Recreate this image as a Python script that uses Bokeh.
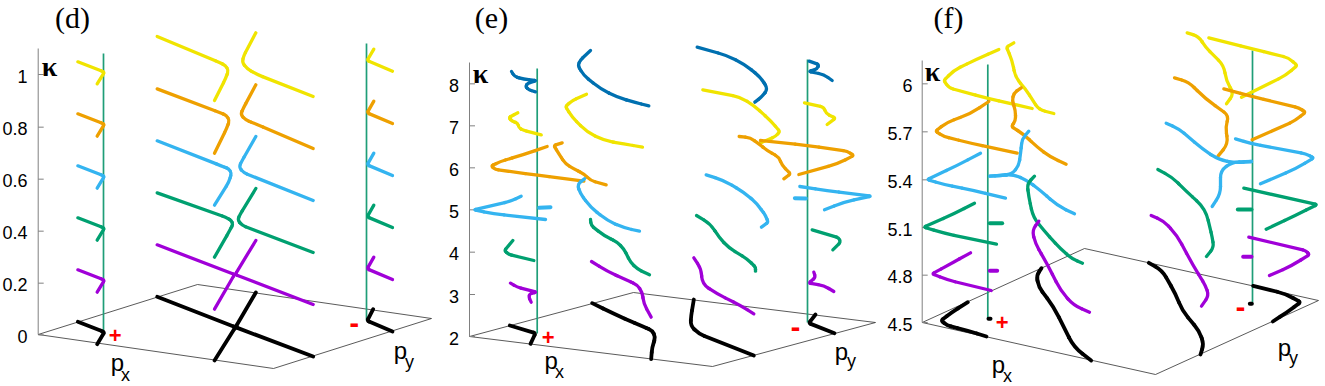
import math
from bokeh.plotting import figure
from bokeh.core.properties import value
from bokeh.embed import file_html
from bokeh.resources import INLINE

COLORS = dict(y="#f0e400", o="#eea000", s="#34b4f0", g="#00a070", p="#a000d8", b="#0070b0", k="#000000")

# curves of each crop (crop units: 3 per pixel)
curves_a = [
 ("y",[(232,184),(305,212),(311,216),(290,250)]),("o",[(232,340),(305,368),(311,372),(290,407)]),
 ("s",[(232,496),(305,524),(311,528),(290,563)]),("g",[(232,652),(305,680),(311,684),(290,719)]),
 ("p",[(232,808),(305,836),(311,840),(290,875)]),("k",[(232,964),(305,992),(311,996),(290,1031)]),
]
curves_b = [
 ("y",[(20,108),(205,185),(225,195),(234,210),(225,235),(192,300)]),("y",[(316,97),(280,165),(275,185),(290,205),(320,222),(488,288)]),
 ("o",[(20,265),(205,335),(228,345),(237,360),(228,385),(192,458)]),("o",[(316,253),(280,320),(270,342),(285,358),(320,372),(488,444)]),
 ("s",[(20,421),(210,495),(235,505),(243,518),(235,545),(192,614)]),("s",[(316,408),(275,480),(265,500),(280,517),(488,600)]),
 ("g",[(20,577),(225,650),(243,660),(247,672),(235,695),(192,770)]),("g",[(316,564),(270,640),(261,658),(275,675),(488,756)]),
 ("p",[(20,733),(252,822),(192,926)]),("p",[(316,720),(254,822),(488,912)]),
 ("k",[(20,889),(255,980),(192,1080)]),("k",[(316,876),(255,980),(488,1068)]),
 ("y",[(670,146),(650,180),(726,212)]),("o",[(670,302),(650,337),(726,369)]),("s",[(670,458),(650,493),(726,525)]),
 ("g",[(670,614),(650,649),(726,681)]),("p",[(670,770),(650,805),(726,837)]),("k",[(668,926),(650,961),(726,993)]),
]
curves_c = [
 ("b",[(213,213),(222,228),(250,236),(288,240),(262,248),(255,258),(265,268),(285,274)]),
 ("y",[(232,337),(215,345),(205,352),(215,362),(232,368),(235,382),(250,390),(302,403)]),
 ("o",[(320,438),(250,462),(180,483),(152,496),(165,507),(290,524),(430,542)]),
 ("s",[(242,587),(210,602),(100,628),(160,640),(315,657)]),("s",[(296,622),(330,620)]),
 ("g",[(217,720),(192,750),(205,762),(280,780)]),
 ("p",[(210,848),(230,860),(288,875),(268,880),(265,890),(272,905)]),
 ("k",[(208,975),(285,998),(270,1030)]),
 ("b",[(450,150),(420,178),(412,195),(430,225),(480,265),(530,290),(580,305),(625,316)]),
 ("y",[(438,281),(395,300),(375,318),(395,350),(440,395),(490,420),(550,430),(606,440)]),
 ("o",[(365,427),(340,435),(355,460),(375,490),(400,505),(430,520),(450,540),(497,553)]),
 ("s",[(432,535),(410,552),(420,580),(450,620),(500,660),(550,682),(597,692)]),
 ("g",[(450,657),(452,675),(490,705),(530,725),(550,745),(570,785),(590,805),(627,823)]),
 ("p",[(453,783),(500,812),(550,835),(590,853),(605,875),(610,910),(632,950)]),
 ("k",[(455,908),(520,940),(600,975),(635,990),(645,1010),(635,1040),(632,1076)]),
]
curves_d = [
 ("b",[(110,140),(200,165),(250,190),(300,230),(322,265),(305,288),(283,305)]),
 ("y",[(127,268),(240,290),(280,315),(330,360),(358,393),(345,408),(298,428)]),
 ("o",[(236,408),(270,412),(295,430),(320,450),(355,470),(365,495),(390,520),(370,535)]),
 ("o",[(300,420),(440,435),(560,452),(580,465),(530,490),(415,522)]),
 ("s",[(137,523),(190,540),(250,575),(290,610),(315,645),(323,665),(303,680)]),
 ("g",[(108,645),(150,670),(175,710),(205,742),(260,775),(285,800),(285,812)]),
 ("p",[(100,772),(122,805),(125,850),(170,880),(240,915),(280,940)]),
 ("k",[(100,897),(92,945),(90,975),(115,1000),(280,1065)]),
 ("b",[(446,182),(475,192),(470,205),(445,213),(490,222),(515,240)]),
 ("y",[(432,307),(490,320),(497,340),(525,353),(500,372)]),
 ("s",[(418,558),(500,570),(632,587),(550,605),(492,628)]),("s",[(403,593),(436,594)]),
 ("g",[(455,688),(535,712),(540,725),(517,748)]),
 ("p",[(460,815),(465,830),(445,848),(490,855),(520,873)]),
 ("k",[(465,942),(445,968),(522,998)]),
]
curves_e = [
 ("y",[(355,147),(290,175),(220,210),(190,240),(205,262),(320,293),(455,324)]),
 ("y",[(400,127),(378,140),(395,180),(405,232),(435,265),(470,320),(485,330),(520,339)]),
 ("o",[(325,303),(270,340),(200,365),(165,392),(190,408),(270,428),(410,458)]),
 ("o",[(422,262),(400,278),(395,300),(405,330),(405,360),(393,378),(430,402),(470,440),(510,470),(557,491)]),
 ("s",[(300,458),(230,495),(140,537),(190,552),(280,570),(375,593)]),
 ("s",[(445,392),(425,415),(420,460),(415,495),(395,520),(360,525),(328,527)]),
 ("s",[(328,527),(400,522),(440,540),(480,570),(530,615),(582,640)]),
 ("g",[(282,608),(220,640),(130,680),(190,698),(348,731)]),("g",[(328,668),(365,668)]),
 ("g",[(462,527),(440,550),(445,590),(458,650),(490,690),(540,745),(575,775),(606,788)]),
 ("p",[(270,757),(210,790),(155,820),(200,838),(332,870)]),("p",[(328,811),(350,811)]),
 ("p",[(475,662),(455,690),(465,730),(500,790),(540,870),(580,915),(627,935)]),
 ("k",[(262,905),(215,935),(182,960),(200,975),(260,990),(318,1008)]),
 ("k",[(483,803),(468,825),(475,860),(520,920),(550,980),(580,1040),(632,1080)]),
 ("k",[(324,955),(330,955)]),
]
curves_f = [
 ("y",[(310,112),(440,145),(550,172),(575,195),(540,225),(408,290)]),
 ("y",[(245,97),(280,108),(300,140),(355,195),(362,240),(385,280),(363,310)]),
 ("o",[(355,265),(440,288),(580,322),(600,335),(570,360),(440,418)]),
 ("o",[(207,232),(250,245),(300,295),(370,345),(360,380),(368,430),(338,466)]),
 ("s",[(390,415),(440,430),(600,460),(625,472),(570,505),(465,550)]),
 ("s",[(182,368),(220,385),(290,445),(340,478),(390,487),(438,483)]),
 ("s",[(438,483),(380,485),(345,510),(345,580),(320,618)]),
 ("g",[(415,563),(635,612),(570,645),(482,686)]),("g",[(397,627),(438,627)]),
 ("g",[(157,507),(200,530),(240,570),(300,625),(320,710),(325,740),(303,768)]),
 ("p",[(430,710),(600,750),(612,762),(560,795),(492,825)]),("p",[(413,769),(438,769)]),
 ("p",[(137,645),(175,662),(215,705),(260,790),(300,855),(310,885),(288,917)]),
 ("k",[(443,856),(540,880),(585,905),(545,935),(502,963)]),
 ("k",[(130,787),(170,810),(210,880),(230,930),(280,990),(295,1030),(285,1062)]),
 ("k",[(433,910),(439,910)]),
]
crops = [(0,curves_a),(150,curves_b),(440,curves_c),(660,curves_d),(880,curves_e),(1105,curves_f)]

ticks_d = ["1","0.8","0.6","0.4","0.2","0"]
ticks_d_y = [222,380,536,692,848,1003]
ticks_e = ["8","7","6","5","4","3","2"]
ticks_e_y = [250,376,502,628,755,882,1008]
ticks_f = ["6","5.7","5.4","5.1","4.8","4.5"]
ticks_f_y = [250,394,538,681,824,966]

planes = [
 [(37.7,334),(197,284),(431,318),(273,368),(37.7,334)],
 [(469,336),(633,292),(875,322),(712,366),(469,336)],
 [(921.7,322),(1084,248),(1318,300),(1155,374),(921.7,322)],
]
axes_pp = [(37.7,48,334),(469,62,336),(921.7,60,322)]
stems = [(103,53,330),(366,43,320),(536.7,68,333),(807,59,322),(987.3,64,318),(1252,50,302)]

p = figure(width=1325, height=386, x_range=(0,1325), y_range=(386,0), output_backend="svg",
           toolbar_location=None, min_border=0)
p.axis.visible = False
p.grid.visible = False
p.outline_line_color = None
p.background_fill_color = "white"

for pl in planes:
    p.line([a for a,_ in pl],[b for _,b in pl],line_color="#303030",line_width=0.8)
for x,y0,y1 in axes_pp:
    p.line([x,x],[y0,y1],line_color="#808080",line_width=1)
for x,y0,y1 in stems:
    p.line([x,x],[y0,y1],line_color="#1f9e78",line_width=1.7)

def tick_block(labels, ys, axis_x, right):
    for lab,y in zip(labels,ys):
        yy=y/3
        p.line([axis_x,axis_x+5.5],[yy,yy],line_color="#808080",line_width=1)
        p.text([right],[yy+1.5],text=[lab],text_font=value("Liberation Sans"),text_font_size="18px",
               text_align="right",text_baseline="middle",text_color="black")
tick_block(ticks_d,ticks_d_y,37.7,27)
tick_block(ticks_e,ticks_e_y,469,458.5)
tick_block(ticks_f,ticks_f_y,921.7,912)

def draw_curve(off, c, pts):
    P=[(off+a/3,b/3) for a,b in pts]
    lw=3.8 if c=="k" else 3.3
    kw=dict(line_color=COLORS[c],line_width=lw,line_cap="round")
    n=len(P)
    if n==2:
        kw["line_width"]=4
        p.line([P[0][0],P[1][0]],[P[0][1],P[1][1]],**kw); return
    cut=[]
    for i in range(1,n-1):
        ax,ay=P[i-1];bx,by=P[i];cx,cy=P[i+1]
        u=(ax-bx,ay-by);v=(cx-bx,cy-by)
        lu=math.hypot(*u);lv=math.hypot(*v)
        cos=(u[0]*v[0]+u[1]*v[1])/(lu*lv)
        d=min(min(lu,lv)/2,12)
        if cos>-0.3:
            d=min(d,2)     # keep the sharp corners of the curves tight
        cut.append(((bx+u[0]/lu*d,by+u[1]/lu*d),(bx,by),(bx+v[0]/lv*d,by+v[1]/lv*d)))
    xs=[];ys=[]
    cur=P[0]
    for s,ctrl,e in cut:
        if math.hypot(s[0]-cur[0],s[1]-cur[1])>0.01:
            xs.append([cur[0],s[0]]);ys.append([cur[1],s[1]])
        p.quadratic(x0=[s[0]],y0=[s[1]],x1=[e[0]],y1=[e[1]],cx=[ctrl[0]],cy=[ctrl[1]],**kw)
        cur=e
    if math.hypot(P[-1][0]-cur[0],P[-1][1]-cur[1])>0.01:
        xs.append([cur[0],P[-1][0]]);ys.append([cur[1],P[-1][1]])
    if xs:
        p.multi_line(xs,ys,**kw)

for off,cs in crops:
    for c,pts in cs:
        draw_curve(off,c,pts)

def txt(x,y,t,font,size,color="black",style="normal"):
    # y is the wanted baseline; the text glyph sits about a third of its size lower
    p.text([x],[y-size/3],text=[t],text_font=value(font),text_font_size=f"{size}px",text_align="center",
           text_baseline="alphabetic",text_color=color,text_font_style=style)

for x,t in [(72,"(d)"),(491,"(e)"),(948,"(f)")]:
    txt(x,27,t,"Liberation Serif",30)
for x,y in [(49,75),(480,82.7),(932,80)]:
    txt(x,y,"κ","Liberation Serif",28,style="bold")
for x,y in [(117,370),(550.7,368),(998,372)]:
    txt(x,y,"p","Liberation Sans",24)
for x,y in [(125,380),(559,377.7),(1007,381)]:
    txt(x,y,"x","Liberation Sans",18)
for x,y in [(400,358),(841,358.5),(1284,355)]:
    txt(x,y,"p","Liberation Sans",24)
for x,y in [(409,367),(851,366),(1293,363)]:
    txt(x,y,"y","Liberation Sans",18)
for x,y in [(114.7,334.7),(547.7,336.7),(1001.7,322.3)]:
    p.text([x],[y],text=["+"],text_font=value("Liberation Sans"),text_font_size="22px",text_align="center",
           text_baseline="middle",text_color="#ff0000",text_font_style="bold")
for x,y in [(353.7,322.7),(795,326.7),(1240,306.7)]:
    p.text([x],[y],text=["-"],text_font=value("DejaVu Sans"),text_font_size="24px",text_align="center",
           text_baseline="middle",text_color="#ff0000",text_font_style="bold")

open("out.html","w").write(file_html(p,INLINE))
